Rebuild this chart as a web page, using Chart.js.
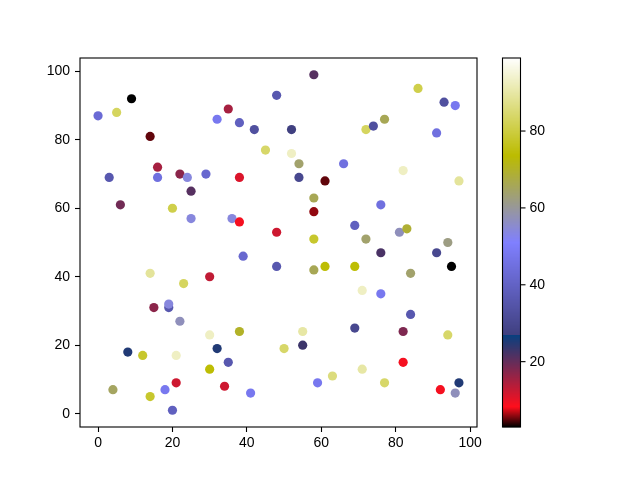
<!DOCTYPE html>
<html>
<head>
<meta charset="utf-8">
<script src="https://cdn.jsdelivr.net/npm/chart.js@4/dist/chart.umd.min.js"></script>
<style>
  html, body { margin: 0; background: #fff; }
  canvas { display: block; }
</style>
</head>
<body>
<canvas id="scatterChart" width="640" height="480"></canvas>
<script>
// point data
const xValues = [0, 5, 9, 35, 32, 38, 42, 48, 14, 45, 16, 3, 16, 22, 24, 29, 38, 25, 6, 20, 25, 36, 38, 48,
  58, 86, 93, 96, 77, 72, 74, 52, 91, 52, 54, 66, 82, 97, 54, 61, 58, 58, 76, 69, 81, 83, 58, 72, 94,
  76, 91, 96, 95, 48, 58, 61, 69, 84, 71, 76, 84, 69, 82, 94, 55, 50, 55, 82, 71, 63, 59, 77, 92, 97, 96,
  39, 14, 23, 30, 15, 19, 19, 22, 30, 38, 8, 12, 21, 32, 35, 30, 21, 34, 18, 41, 4, 14, 20];
const yValues = [87, 88, 92, 89, 86, 85, 83, 93, 81, 77, 72, 69, 69, 70, 69, 70, 69, 65, 61, 60, 57, 57, 56, 53,
  99, 95, 91, 90, 86, 83, 84, 83, 82, 76, 73, 73, 71, 68, 69, 68, 63, 59, 61, 55, 53, 54, 51, 51, 50,
  47, 47, 42, 43, 43, 42, 43, 43, 41, 36, 35, 29, 25, 24, 23, 24, 19, 20, 15, 13, 11, 9, 9, 7, 9, 6,
  46, 41, 38, 40, 31, 31, 32, 27, 23, 24, 18, 17, 17, 19, 15, 13, 9, 8, 7, 6, 7, 5, 1];
const colorValues = [43, 83, 3, 15, 48, 39, 33, 36, 5, 84, 15, 36, 45, 17, 54, 42, 11, 21, 19, 81, 54, 54, 9, 12,
  21, 81, 33, 48, 66, 83, 33, 27, 45, 93, 64, 45, 93, 89, 30, 5, 66, 6, 45, 39, 57, 69, 78, 64, 62,
  22, 30, 99, 3, 36, 66, 74, 74, 64, 93, 48, 36, 30, 18, 84, 90, 84, 23, 9, 90, 86, 48, 84, 9, 25, 57,
  42, 89, 83, 13, 17, 36, 54, 57, 93, 70, 25, 78, 93, 25, 36, 74, 12, 12, 48, 48, 65, 78, 39];

const xTicks = [0, 20, 40, 60, 80, 100];
const yTicks = [0, 20, 40, 60, 80, 100];
const colorbarTicks = [20, 40, 60, 80];

const cMin = Math.min(...colorValues);
const cMax = Math.max(...colorValues);

// gist_stern colormap
function sternColor(t) {
  t = Math.max(0, Math.min(1, t));
  let r;
  if (t < 0.0547) r = t / 0.0547;
  else if (t < 0.25) r = 1 - (t - 0.0547) / (0.25 - 0.0547) * (1 - 0.027);
  else r = t;
  const g = t;
  let b;
  if (t < 0.5) b = 2 * t;
  else if (t < 0.735) b = 1 - (t - 0.5) / 0.235;
  else b = (t - 0.735) / 0.265;
  return `rgb(${Math.round(r * 255)}, ${Math.round(g * 255)}, ${Math.round(b * 255)})`;
}

const pointColors = colorValues.map(v => sternColor((v - cMin) / (cMax - cMin)));
const points = xValues.map((x, i) => ({ x: x, y: yValues[i] }));

const axesFrame = {
  id: "axesFrame",
  afterDatasetsDraw(chart) {
    const { ctx, chartArea } = chart;
    ctx.save();
    ctx.strokeStyle = "#000";
    ctx.lineWidth = 1.1;
    ctx.strokeRect(chartArea.left, chartArea.top, chartArea.right - chartArea.left, chartArea.bottom - chartArea.top);
    ctx.restore();
  }
};

const colorbar = {
  id: "colorbar",
  afterDraw(chart) {
    const { ctx, chartArea } = chart;
    const top = chartArea.top, bottom = chartArea.bottom;
    const left = 502.5, width = 18;
    const h = bottom - top;
    ctx.save();
    for (let y = 0; y < h; y += 1) {
      const t = 1 - (y + 0.5) / h;
      ctx.fillStyle = sternColor(t);
      ctx.fillRect(left, top + y, width, 1.2);
    }
    ctx.strokeStyle = "#000";
    ctx.lineWidth = 1.1;
    ctx.strokeRect(left, top, width, h);
    ctx.fillStyle = "#000";
    ctx.font = "14px 'Liberation Sans'";
    ctx.textBaseline = "middle";
    colorbarTicks.forEach(v => {
      const y = bottom - (v - cMin) / (cMax - cMin) * h;
      ctx.beginPath();
      ctx.moveTo(left + width, y);
      ctx.lineTo(left + width + 5, y);
      ctx.stroke();
      ctx.fillText(String(v), left + width + 9, y);
    });
    ctx.restore();
  }
};

const tickFont = { family: "'Liberation Sans'", size: 14 };

new Chart(document.getElementById("scatterChart"), {
  type: "scatter",
  data: {
    datasets: [{
      data: points,
      backgroundColor: pointColors,
      borderWidth: 0,
      pointRadius: 4.6,
      pointHoverRadius: 4.6
    }]
  },
  options: {
    responsive: false,
    animation: false,
    devicePixelRatio: 1,
    layout: { padding: { left: 0, top: 58, right: 163, bottom: 0 } },
    plugins: { legend: { display: false }, tooltip: { enabled: false } },
    scales: {
      x: {
        type: "linear",
        min: -4.85,
        max: 101.85,
        afterBuildTicks: s => { s.ticks = xTicks.map(v => ({ value: v })); },
        afterFit: s => { s.height = 53; },
        grid: { drawOnChartArea: false, drawTicks: true, tickLength: 5, tickColor: "#000", tickWidth: 1.1 },
        border: { display: false },
        ticks: { color: "#000", font: tickFont, padding: 3, maxRotation: 0 }
      },
      y: {
        type: "linear",
        min: -3.9,
        max: 103.9,
        afterBuildTicks: s => { s.ticks = yTicks.map(v => ({ value: v })); },
        afterFit: s => { s.width = 80; },
        grid: { drawOnChartArea: false, drawTicks: true, tickLength: 5, tickColor: "#000", tickWidth: 1.1 },
        border: { display: false },
        ticks: { color: "#000", font: tickFont, padding: 5 }
      }
    }
  },
  plugins: [axesFrame, colorbar]
});
</script>
</body>
</html>
